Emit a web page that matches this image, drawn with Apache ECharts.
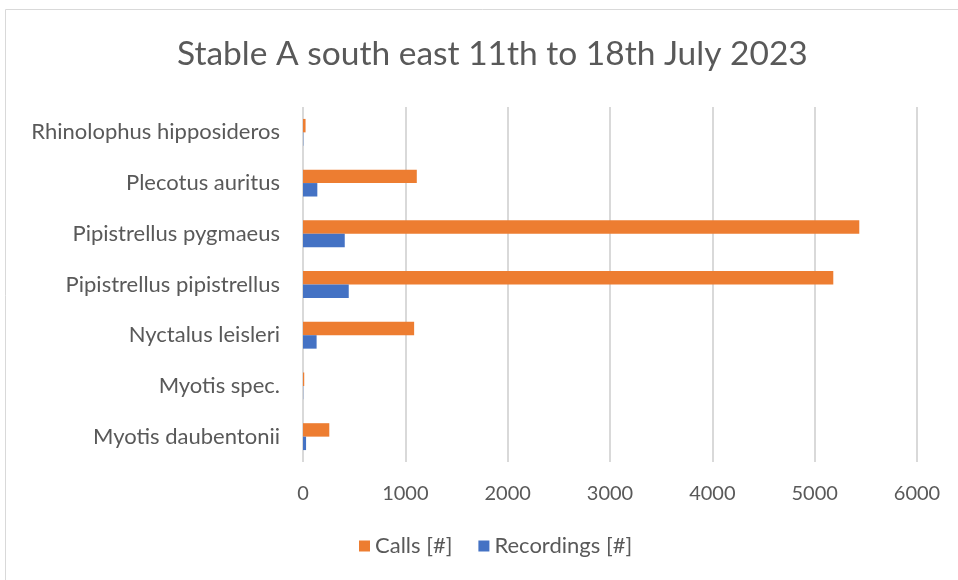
<!DOCTYPE html>
<html>
<head>
<meta charset="UTF-8">
<title>Stable A south east</title>
<script src="https://cdn.jsdelivr.net/npm/echarts@6/dist/echarts.min.js" type="text/javascript"></script>
<style>
    body { margin: 0; background: #fff; }
</style>
</head>
<body>
    <div id="container" style="width: 958px; height: 580px;"></div>
    <script>
    // species, listed top to bottom as in the chart
    var species = ['Rhinolophus hipposideros', 'Plecotus auritus', 'Pipistrellus pygmaeus',
        'Pipistrellus pipistrellus', 'Nyctalus leisleri', 'Myotis spec.', 'Myotis daubentonii'];
    var calls = [25, 1112, 5436, 5182, 1086, 12, 257];
    var recordings = [3, 140, 408, 447, 133, 2, 30];
    var xTicks = [0, 1000, 2000, 3000, 4000, 5000, 6000];

    var font = 'Lato, "Open Sans", sans-serif';
    var mychart = echarts.init(document.getElementById('container'));
    var option = {
        animation: false,
        textStyle: { fontFamily: font },
        title: {
            text: 'Stable A south east 11th to 18th July 2023',
            left: 172,
            top: 32,
            textStyle: { fontFamily: font, fontSize: 33.5, fontWeight: 'normal', color: '#595959' }
        },
        graphic: [{
            type: 'rect',
            shape: { x: 5.5, y: 9.5, width: 1000, height: 700 },
            style: { fill: 'none', stroke: '#d9d9d9', lineWidth: 1 },
            silent: true
        }],
        legend: {
            data: ['Calls [#]', 'Recordings [#]'],
            bottom: 18,
            left: 354,
            itemWidth: 11,
            itemHeight: 11,
            itemGap: 26,
            icon: 'rect',
            textStyle: { fontFamily: font, fontSize: 22, color: '#595959' }
        },
        grid: { left: 303, right: 41, top: 107, bottom: 118 },
        xAxis: {
            type: 'value',
            min: xTicks[0],
            max: xTicks[xTicks.length - 1],
            interval: 1000,
            axisLine: { show: false },
            axisTick: { show: false },
            axisLabel: {
                fontFamily: font, fontSize: 20, color: '#595959', margin: 22,
                formatter: function (v) { return String(v); }
            },
            splitLine: { lineStyle: { color: '#d9d9d9', width: 2 } }
        },
        yAxis: {
            type: 'category',
            data: species,
            inverse: true,
            axisLine: { show: false },
            axisTick: { show: false },
            axisLabel: { fontFamily: font, fontSize: 22, color: '#595959', margin: 23 }
        },
        series: [{
            name: 'Calls [#]',
            type: 'bar',
            data: calls,
            itemStyle: { color: '#ED7D31' },
            barGap: '0%',
            barCategoryGap: '47%'
        }, {
            name: 'Recordings [#]',
            type: 'bar',
            data: recordings,
            itemStyle: { color: '#4472C4' },
            barGap: '0%',
            barCategoryGap: '47%'
        }]
    };
    mychart.setOption(option);
    </script>
</body>
</html>
